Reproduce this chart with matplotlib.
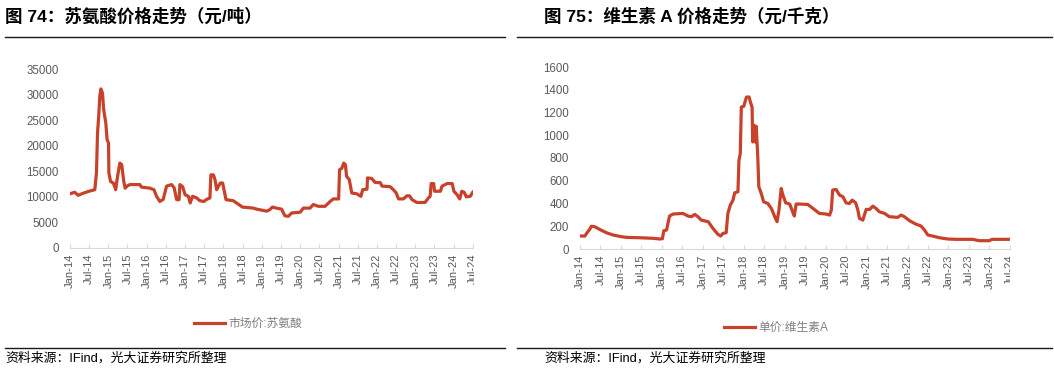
import matplotlib
matplotlib.use("Agg")
import matplotlib.pyplot as plt
import matplotlib.dates as mdates
from matplotlib.transforms import Bbox
from matplotlib.lines import Line2D
import pandas as pd

plt.rcParams['font.family'] = ['Liberation Sans', 'Noto Sans CJK SC', 'DejaVu Sans']

# 苏氨酸市场价（元/吨）
thr_dates = [
    "2014-01-01", "2014-02-15", "2014-03-20", "2014-05-05", "2014-07-01", "2014-08-25",
    "2014-09-10", "2014-09-20", "2014-10-02", "2014-10-12", "2014-10-22", "2014-11-06",
    "2014-11-18", "2014-12-08", "2014-12-20", "2015-01-03", "2015-01-06", "2015-01-22",
    "2015-02-18", "2015-03-12", "2015-03-25", "2015-04-20", "2015-05-08", "2015-05-28",
    "2015-06-10", "2015-06-28", "2015-07-25", "2015-10-28", "2015-11-12", "2016-02-01",
    "2016-03-10", "2016-04-04", "2016-05-05", "2016-06-06", "2016-07-08", "2016-08-25",
    "2016-09-18", "2016-10-12", "2016-11-04", "2016-11-12", "2016-12-08", "2017-01-01",
    "2017-02-01", "2017-02-18", "2017-03-12", "2017-04-20", "2017-05-20", "2017-06-28",
    "2017-07-25", "2017-08-25", "2017-09-03", "2017-09-27", "2017-10-12", "2017-10-28",
    "2017-12-01", "2017-12-24", "2018-01-25", "2018-04-03", "2018-05-05", "2018-07-01",
    "2018-10-12", "2018-11-12", "2019-02-18", "2019-03-18", "2019-04-12", "2019-05-20",
    "2019-07-08", "2019-08-08", "2019-09-10", "2019-10-12", "2020-01-01", "2020-02-01",
    "2020-04-03", "2020-05-05", "2020-06-22", "2020-08-25", "2020-10-12", "2020-11-12",
    "2021-01-01", "2021-01-10", "2021-02-01", "2021-02-18", "2021-03-06", "2021-03-18",
    "2021-04-12", "2021-05-06", "2021-06-22", "2021-08-01", "2021-08-18", "2021-09-28",
    "2021-10-03", "2021-11-12", "2021-12-15", "2022-02-01", "2022-02-18", "2022-05-06",
    "2022-06-06", "2022-07-03", "2022-07-25", "2022-09-10", "2022-10-12", "2022-11-06",
    "2022-12-01", "2023-01-15", "2023-04-03", "2023-05-06", "2023-05-22", "2023-06-01",
    "2023-06-25", "2023-07-03", "2023-08-28", "2023-09-12", "2023-11-01", "2023-12-18",
    "2024-01-03", "2024-02-03", "2024-02-28", "2024-03-18", "2024-04-10", "2024-05-01",
    "2024-06-06", "2024-07-01",
]
thr_values = [
    10600, 10900, 10300, 10700, 11100, 11400,
    14700, 22500, 26000, 29700, 31100, 30300,
    27000, 24400, 21200, 20500, 14700, 13000,
    12700, 11400, 13400, 16600, 16300, 13000,
    11700, 12100, 12400, 12400, 11900, 11700,
    11400, 10100, 9100, 9500, 12100, 12400,
    11800, 9450, 9450, 12400, 12000, 10400,
    10100, 8800, 10100, 9800, 9250, 9100,
    9500, 9800, 14300, 14300, 13400, 11400,
    12700, 12700, 9450, 9250, 8800, 8000,
    7800, 7600, 7200, 7500, 8000, 7800,
    7600, 6300, 6200, 6850, 7000, 7800,
    7800, 8500, 8150, 8150, 9100, 9600,
    9600, 15300, 15600, 16600, 16300, 14000,
    13400, 10750, 10600, 10100, 11400, 11500,
    13700, 13600, 12800, 12800, 12100, 12000,
    11400, 10750, 9600, 9600, 10200, 10200,
    9450, 8900, 8900, 9800, 10100, 12600,
    12600, 11100, 11100, 12100, 12600, 12600,
    11100, 10400, 9600, 11100, 10900, 10000,
    10100, 10900,
]

# 维生素A单价（元/千克）
va_dates = [
    "2014-01-01", "2014-02-14", "2014-03-01", "2014-03-28", "2014-04-12", "2014-05-12",
    "2014-06-26", "2014-08-25", "2014-10-23", "2015-01-06", "2015-02-21", "2015-06-18",
    "2015-10-15", "2015-12-12", "2016-01-06", "2016-01-18", "2016-02-12", "2016-03-10",
    "2016-04-09", "2016-07-06", "2016-08-21", "2016-09-21", "2016-10-21", "2016-11-18",
    "2016-12-18", "2017-02-18", "2017-04-01", "2017-05-15", "2017-06-09", "2017-06-29",
    "2017-07-28", "2017-08-12", "2017-09-03", "2017-09-27", "2017-10-12", "2017-11-10",
    "2017-11-19", "2017-12-01", "2017-12-10", "2018-01-01", "2018-01-25", "2018-02-18",
    "2018-03-01", "2018-03-16", "2018-03-22", "2018-04-04", "2018-04-16", "2018-04-22",
    "2018-05-06", "2018-05-15", "2018-06-06", "2018-06-27", "2018-08-04", "2018-09-04",
    "2018-10-04", "2018-10-25", "2018-11-10", "2018-12-01", "2018-12-16", "2019-01-10",
    "2019-02-15", "2019-03-13", "2019-03-28", "2019-04-13", "2019-05-13", "2019-07-25",
    "2019-09-10", "2019-11-06", "2020-01-06", "2020-02-06", "2020-02-21", "2020-03-04",
    "2020-04-04", "2020-05-04", "2020-06-04", "2020-07-01", "2020-08-01", "2020-08-25",
    "2020-09-25", "2020-10-15", "2020-10-29", "2020-11-28", "2020-12-28", "2021-01-28",
    "2021-02-26", "2021-03-25", "2021-04-25", "2021-06-10", "2021-07-22", "2021-10-06",
    "2021-11-04", "2021-12-04", "2022-01-18", "2022-03-16", "2022-05-01", "2022-06-01",
    "2022-07-01", "2022-08-12", "2022-10-12", "2022-12-25", "2023-03-06", "2023-08-04",
    "2023-10-04", "2024-01-01", "2024-01-25", "2024-07-01",
]
va_values = [
    114, 114, 137, 172, 200, 196,
    172, 143, 123, 108, 102, 99,
    94, 88, 90, 160, 167, 290,
    307, 313, 290, 284, 304, 284,
    254, 240, 181, 129, 114, 137,
    143, 313, 386, 430, 494, 503,
    781, 839, 1248, 1254, 1336, 1336,
    1292, 1248, 941, 1088, 941, 1079,
    810, 547, 488, 415, 400, 357,
    284, 240, 336, 532, 474, 406,
    395, 327, 290, 395, 395, 392,
    357, 313, 307, 298, 342, 518,
    523, 474, 459, 406, 400, 430,
    406, 342, 269, 254, 348, 348,
    377, 357, 327, 313, 284, 278,
    298, 284, 249, 219, 202, 167,
    123, 114, 99, 88, 85, 85,
    73, 73, 85, 85,
]

titles = ["图 74：苏氨酸价格走势（元/吨）", "图 75：维生素 A 价格走势（元/千克）"]
legend_labels = ["市场价:苏氨酸", "单价:维生素A"]
source_text = "资料来源：IFind，光大证券研究所整理"

line_color = "#C8412A"
W, H = 1054, 370

fig = plt.figure(figsize=(W / 100, H / 100), dpi=100)


def fx(px):
    return px / W


def fy(py):
    return 1 - py / H


panels = [
    dict(dates=thr_dates, values=thr_values, ylim=(0, 35000), step=5000,
         rect=(70, 69, 473, 248), title_x=5, rule=(5, 505), legend=(248, 324), clip_x=474),
    dict(dates=va_dates, values=va_values, ylim=(0, 1600), step=200,
         rect=(580, 67, 1010, 249), title_x=544, rule=(517, 1052), legend=(776, 328), clip_x=1010),
]

axes = []
for i, p in enumerate(panels):
    x0, y0, x1, y1 = p["rect"]
    ax = fig.add_axes([fx(x0), fy(y1), fx(x1 - x0), (y1 - y0) / H])
    axes.append(ax)
    d = pd.to_datetime(p["dates"])
    ax.plot(d, p["values"], color=line_color, lw=2.3, solid_joinstyle="round")
    ax.set_xlim(pd.Timestamp("2014-01-01"), pd.Timestamp("2024-07-03"))
    ax.set_ylim(*p["ylim"])
    ax.set_yticks(range(p["ylim"][0], p["ylim"][1] + 1, p["step"]))
    ax.xaxis.set_major_locator(mdates.MonthLocator(bymonth=[1, 7]))
    ax.xaxis.set_major_formatter(mdates.DateFormatter("%b-%y"))
    for s in ["top", "right", "left"]:
        ax.spines[s].set_visible(False)
    ax.spines["bottom"].set_color("#D9D9D9")
    ax.tick_params(axis="y", length=0, labelsize=8.3, labelcolor="#595959", pad=8)
    ax.tick_params(axis="x", direction="in", length=3, color="#D9D9D9",
                   labelsize=8, labelcolor="#595959", labelrotation=90, pad=4)
    ax.set_facecolor("none")

    fig.text(fx(p["title_x"]), fy(16), titles[i], fontsize=12.6, fontweight="bold",
             family=["Liberation Sans", "Noto Sans CJK SC"], va="center", ha="left")
    r0, r1 = p["rule"]
    for ry in (37, 348):
        fig.add_artist(Line2D([fx(r0), fx(r1)], [fy(ry), fy(ry)], color="#1a1a1a", lw=1.0))
    fig.text(fx(p["title_x"]), fy(358), source_text, fontsize=9.3,
             family=["Liberation Sans", "Noto Sans CJK SC"], va="center", ha="left")

    lx, ly = p["legend"]
    ax.legend([legend_labels[i]], loc="center", bbox_to_anchor=(fx(lx), fy(ly)),
              bbox_transform=fig.transFigure, frameon=False, fontsize=8.5,
              handlelength=2.6, handletextpad=0.3, labelcolor="#808080")

# Excel 图中最后一个日期标签被绘图区截断
fig.canvas.draw()
for ax, p in zip(axes, panels):
    for tick in ax.xaxis.get_major_ticks():
        lbl = tick.label1
        if lbl.get_text() == "Jul-24":
            lbl.set_clip_box(Bbox([[0, 0], [p["clip_x"], H]]))
            lbl.set_clip_on(True)

fig.savefig("out.png", dpi=100)
